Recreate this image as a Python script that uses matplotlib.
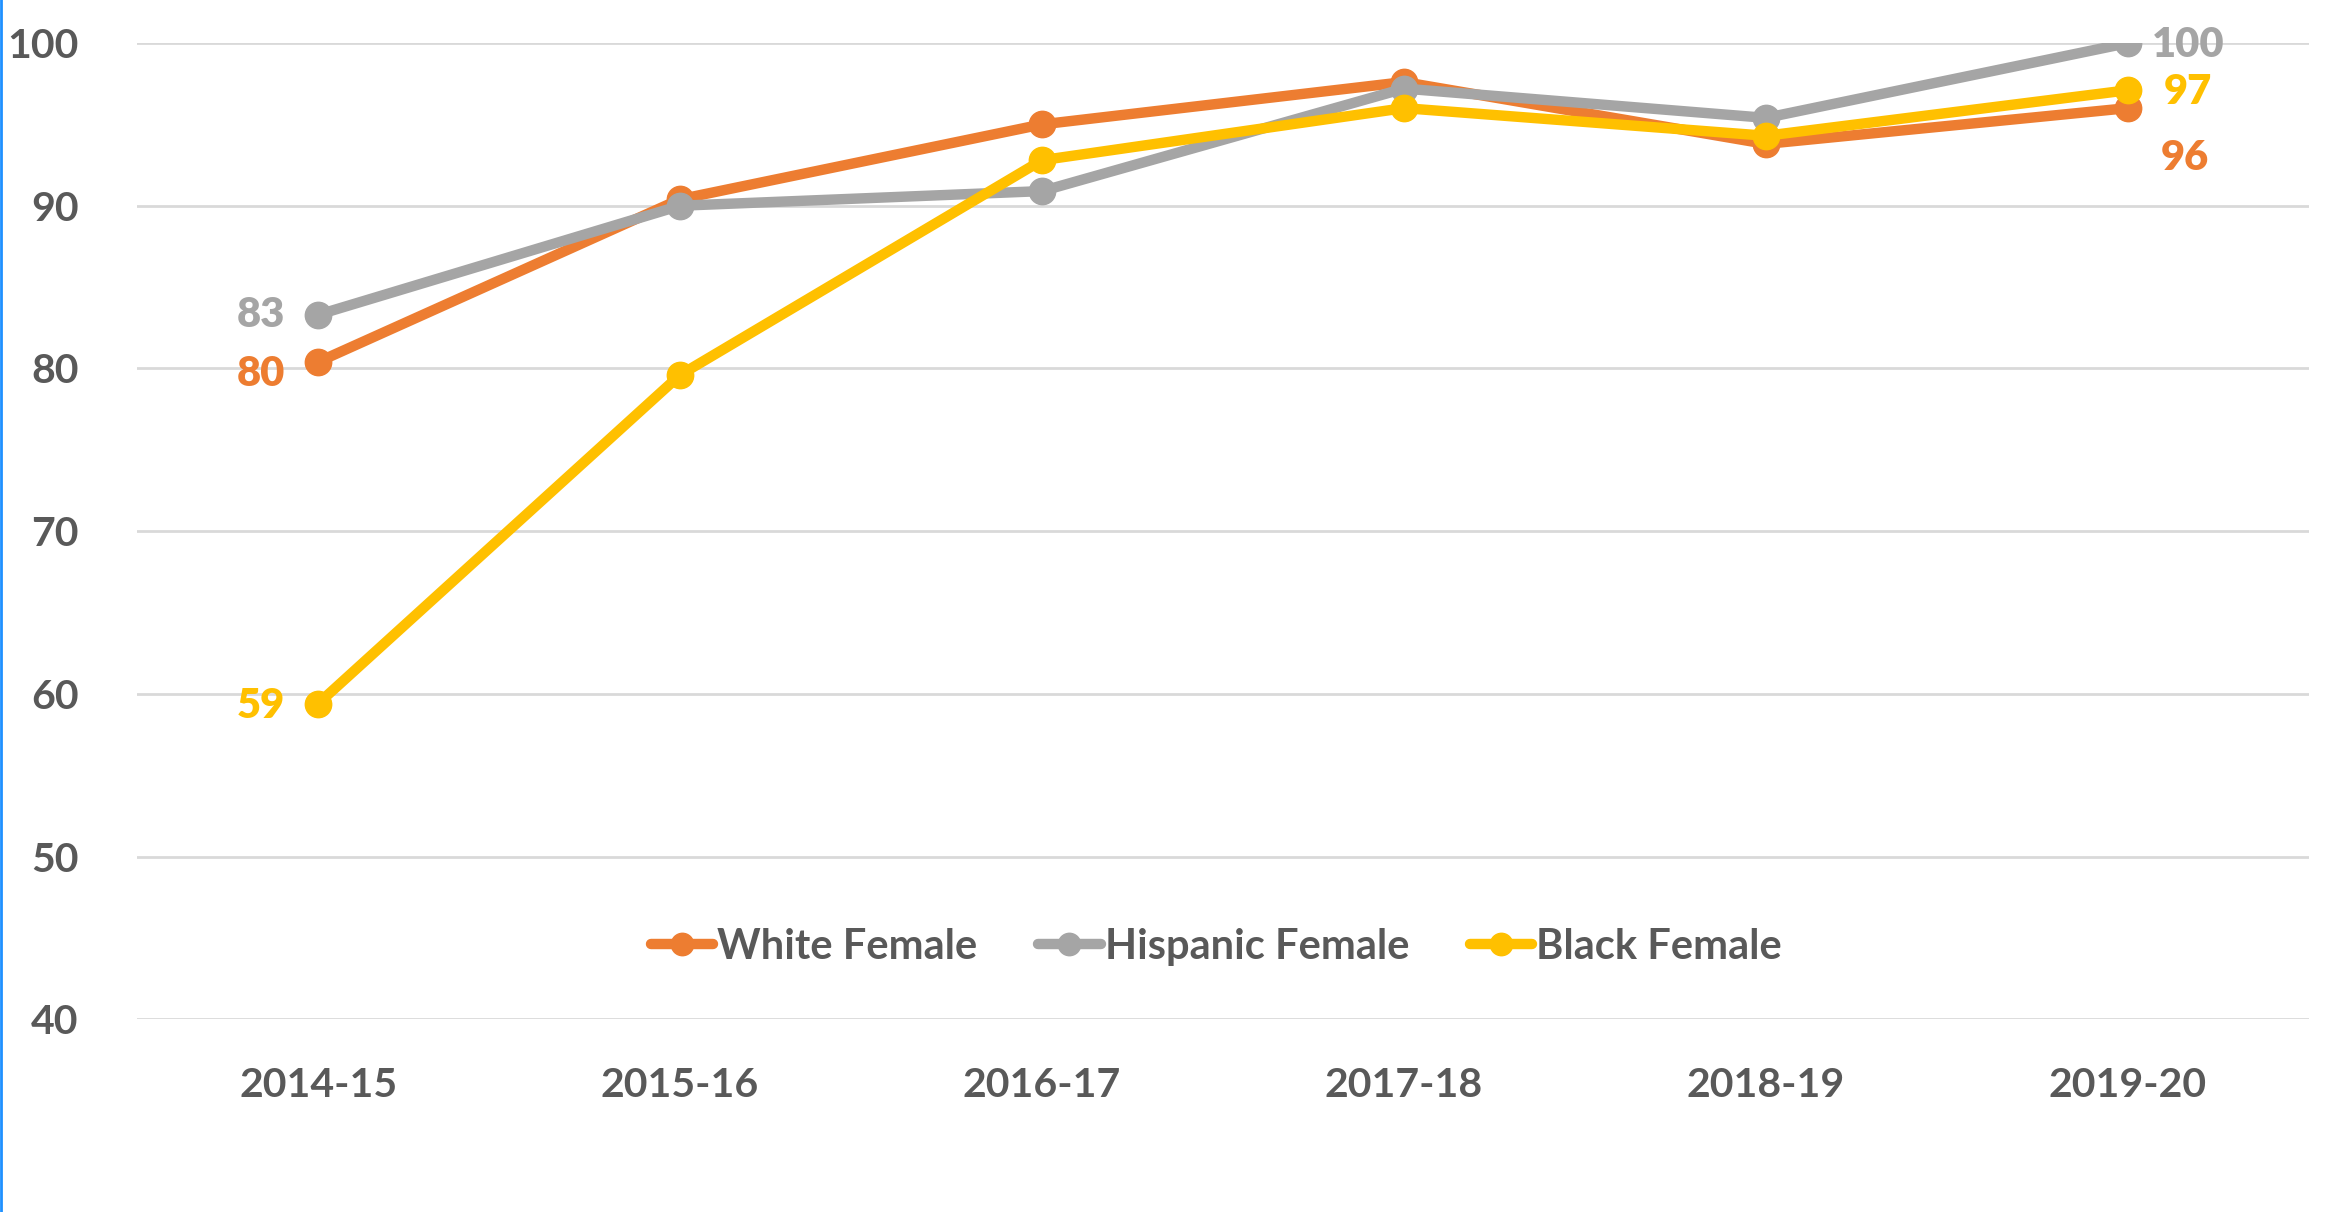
import matplotlib
matplotlib.use("Agg")
import matplotlib.pyplot as plt
from matplotlib.lines import Line2D

years = ["2014-15", "2015-16", "2016-17", "2017-18", "2018-19", "2019-20"]
white_female = [80.4, 90.4, 95.0, 97.6, 93.8, 96.0]
hispanic_female = [83.3, 90.0, 90.9, 97.2, 95.4, 100.0]
black_female = [59.4, 79.6, 92.8, 96.0, 94.3, 97.1]
series_names = ["White Female", "Hispanic Female", "Black Female"]
first_labels = ["80", "83", "59"]
last_labels = ["96", "100", "97"]

colors = ["#ED7D31", "#A5A5A5", "#FFC000"]
plt.rcParams['font.family'] = ['Lato', 'DejaVu Sans']

fig = plt.figure(figsize=(23.36, 12.12), dpi=100)
ax = fig.add_axes([0.0587, 0.159, 0.9297, 0.8055])

x = list(range(len(years)))
all_series = [white_female, hispanic_female, black_female]
for vals, name, c in zip(all_series, series_names, colors):
    ax.plot(x, vals, color=c, lw=7.5, marker='o', ms=19, label=name,
            solid_capstyle='round', zorder=3)

# data labels (first and last points)
first_off = [(-33, -12), (-33, 0), (-33, -2)]
last_off = [(33, -50), (24, -2), (36, -2)]
for i, (vals, c) in enumerate(zip(all_series, colors)):
    ax.annotate(first_labels[i], (x[0], vals[0]), xytext=first_off[i],
                textcoords='offset pixels', ha='right', va='center',
                fontsize=30, fontweight='heavy', color=c, zorder=4)
    ax.annotate(last_labels[i], (x[-1], vals[-1]), xytext=last_off[i],
                textcoords='offset pixels', ha='left', va='center',
                fontsize=30, fontweight='heavy', color=c, zorder=4)

ax.set_xlim(-0.5, len(years) - 0.5)
ax.set_ylim(40, 100)
ax.set_yticks(range(40, 101, 10))
ax.set_xticks(x)
ax.set_xticklabels(years)
ax.tick_params(axis='both', length=0, labelsize=29.5, labelcolor='#595959')
ax.tick_params(axis='y', pad=42)
ax.tick_params(axis='x', pad=34)
for lbl in ax.get_xticklabels() + ax.get_yticklabels():
    lbl.set_fontweight('bold')
ax.grid(axis='y', color='#D9D9D9', lw=2)
ax.set_axisbelow(True)
for s in ax.spines.values():
    s.set_visible(False)

leg = ax.legend(loc='center', bbox_to_anchor=(0.497, 0.074), ncol=3, frameon=False,
                fontsize=30, handlelength=1.5, handletextpad=0.1,
                columnspacing=1.45, markerscale=0.85)
for t in leg.get_texts():
    t.set_color('#595959')
    t.set_fontweight('bold')

# thin blue line at left edge
fig.add_artist(Line2D([0.0005, 0.0005], [0, 1], transform=fig.transFigure,
                      color='#1E90FF', lw=2))

fig.savefig("out.png", dpi=100, facecolor='white')
